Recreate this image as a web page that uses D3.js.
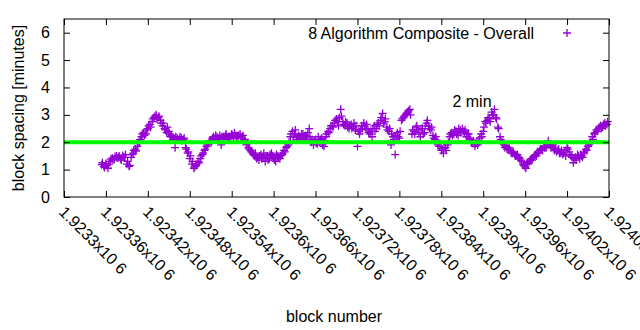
<!DOCTYPE html>
<html><head><meta charset="utf-8">
<script src="https://cdn.jsdelivr.net/npm/d3@7"></script>
<style>body{margin:0;background:#fff}svg{display:block}text{font-family:"Liberation Sans",Arial,sans-serif;fill:#000}</style>
</head><body><svg id="c" width="640" height="330"></svg>
<script>
const startBlock = 1923354;
const blockStep = 3;
const spacing = [
1.18,1.12,1.22,1.05, 1.3,1.42,1.38,1.5, 1.45,1.4,1.52,1.45, 1.2,1.12,
1.45,1.6,1.75,1.85, 2.0,2.2,2.35,2.3, 2.5,2.65,2.75, 2.9,3.0,2.9,2.8,
2.6,2.5,2.35,2.4, 2.2,2.1,1.8,2.15, 2.1,2.15,2.1,1.8, 1.6,1.4,1.2,
1.05,1.15,1.3, 1.4,1.55,1.7,1.85, 1.95,2.05,2.15,2.1,
2.2,2.15,1.9,2.2,2.25,2.1,2.2,2.3,2.15,2.25,2.2,2.3,2.15,2.05,
1.9,1.8,1.7, 1.6,1.5,1.4,1.35,1.55,1.45,1.3, 1.5,1.4,1.6,1.45,1.3,1.5,1.4,
1.55,1.7,1.8,1.9, 2.2,2.4,2.3,2.1,2.25, 2.2,2.3,2.1,2.2,2.5,
2.0,1.9,2.1,1.95,2.0,2.15,1.85, 2.2,2.4,2.5,2.6, 2.7,2.85,2.6,3.2,2.75,
2.6,2.7,2.5,2.65,2.55,2.45, 1.85,2.3,2.6,2.7,2.5,2.45, 2.3,2.2,2.6,2.5,2.7,
2.8,3.05,2.75,2.55,2.4, 1.9,2.2,1.55,2.35,2.15, 2.8,2.9,3.0,3.1,3.2,
2.3,2.4,2.55,2.45,2.2,2.5,2.35, 2.7,2.6,2.45,2.25,2.1, 2.0,1.85,1.7,1.6,1.8,1.9,
2.2,2.35,2.3,2.4,2.25,2.45, 2.5,2.35,2.2,2.3, 2.1,1.95,1.85,2.05,2.0,
2.3,2.4,2.75,2.8,2.85, 3.1,3.0,2.9,2.55, 2.2,2.0,1.9,
1.85,1.75,1.7,1.6,1.55,1.5,1.45,1.35, 1.2,1.1,1.25, 1.3,1.4,1.45,1.55,1.65,1.7,
1.75,1.85,1.8,2.05,1.9,1.85,1.7, 1.65,1.75,1.6,1.55,1.7,1.8,1.65,1.5,
1.25,1.45,1.55,1.4,1.5,1.6, 1.75,1.85,1.95, 2.2,2.3,2.45,2.5,2.6,2.55,2.7,2.65
];
const spacingB = [
1.25,1.08,1.15,1.2, 1.38,1.35,1.48,1.42, 1.5,1.35,1.45,1.55, 1.3,1.15,
1.55,1.7,1.68,1.95, 2.1,2.3,2.25,2.45, 2.6,2.55,2.85, 2.95,2.85,2.95,2.7,
2.7,2.45,2.55,2.3, 2.25,2.15,2.2,2.1, 2.2,2.05,2.15,1.75, 1.65,1.5,1.3,
1.1,1.2,1.25, 1.5,1.6,1.75,1.9, 2.05,2.0,2.2,2.25,
2.1,2.25,2.2,2.15,2.3,2.2,2.15,2.25,2.35,2.2,2.25,2.2,2.25,2.1,
1.95,1.75,1.65, 1.55,1.6,1.45,1.5,1.4,1.6,1.5, 1.35,1.55,1.5,1.35,1.55,1.45,1.5,
1.6,1.65,1.85,2.0, 2.3,2.2,2.45,2.2,2.15, 2.3,2.15,2.25,2.35,2.2,
2.1,2.05,1.95,2.2,2.1,1.9,2.05, 2.3,2.35,2.6,2.55, 2.8,2.75,2.9,2.95,2.65,
2.75,2.55,2.6,2.5,2.7,2.6, 2.4,2.45,2.5,2.6,2.65,2.35, 2.4,2.5,2.4,2.65,2.6,
2.9,2.7,2.85,2.45,2.5, 2.3,2.1,2.25,2.2,2.4, 2.85,2.95,3.05,3.15,3.0,
2.45,2.3,2.6,2.35,2.5,2.3,2.6, 2.8,2.5,2.55,2.15,2.2, 1.9,1.95,1.75,1.8,1.7,2.0,
2.3,2.25,2.45,2.3,2.5,2.35, 2.4,2.45,2.3,2.15, 2.0,2.05,1.95,1.9,2.15,
2.2,2.55,2.7,2.9,2.75, 3.0,3.2,2.85,2.5, 2.1,1.95,1.8,
1.75,1.8,1.6,1.65,1.5,1.55,1.4,1.3, 1.15,1.05,1.2, 1.35,1.35,1.5,1.5,1.6,1.75,
1.7,1.8,1.9,1.95,1.8,1.9,1.75, 1.7,1.6,1.7,1.6,1.5,1.75,1.55,1.45,
1.4,1.35,1.5,1.55,1.45,1.65, 1.7,1.9,2.0, 2.1,2.35,2.4,2.55,2.5,2.65,2.6,2.75
];
const blocks = spacing.map((v,i) => startBlock + i*blockStep);
const blocksB = spacingB.map((v,i) => startBlock + 1 + i*blockStep);
const xTicks = d3.range(1923300, 1924081, 60);
const yTicks = [0,1,2,3,4,5,6];
const targetMinutes = 2;
const seriesName = "8 Algorithm Composite - Overall";
const targetLabel = "2 min";

const svg = d3.select("#c");
const L=64,R=609,T=19,B=197;
const x = d3.scaleLinear([1923300,1924080],[L,R]);
const y = d3.scaleLinear([0,6.5],[B,T]);
const purple = "#9400d3";
const fs = 16;

// data points
const pts = svg.append("g");
const s = 4;
const cross = (cx,cy)=>pts.append("path").attr("d",`M${cx-s},${cy}H${cx+s}M${cx},${cy-s}V${cy+s}`)
    .attr("stroke",purple).attr("stroke-width",1.3).attr("fill","none");
spacing.forEach((v,i)=>cross(x(blocks[i]), y(v)));
spacingB.forEach((v,i)=>cross(x(blocksB[i]), y(v)));

// 2 min line
svg.append("line").attr("x1",L).attr("x2",R).attr("y1",y(targetMinutes)).attr("y2",y(targetMinutes))
  .attr("stroke","#00ff00").attr("stroke-width",4);

// axes (inward ticks, mirrored)
const ax = (g,axis)=>g.call(axis).call(g=>{g.select(".domain").remove();g.selectAll("line").attr("stroke","#000");});
svg.append("g").attr("transform",`translate(0,${B})`).call(g=>ax(g,d3.axisBottom(x).tickValues(xTicks).tickSize(-6).tickFormat("")));
svg.append("g").attr("transform",`translate(0,${T})`).call(g=>ax(g,d3.axisTop(x).tickValues(xTicks).tickSize(-6).tickFormat("")));
svg.append("g").attr("transform",`translate(${L},0)`).call(g=>ax(g,d3.axisLeft(y).tickValues(yTicks).tickSize(-6).tickFormat("")));
svg.append("g").attr("transform",`translate(${R},0)`).call(g=>ax(g,d3.axisRight(y).tickValues(yTicks).tickSize(-6).tickFormat("")));
svg.append("rect").attr("x",L).attr("y",T).attr("width",R-L).attr("height",B-T)
  .attr("fill","none").attr("stroke","#000").attr("stroke-width",1);

// y tick labels
yTicks.forEach(t=>svg.append("text").attr("x",L-14).attr("y",y(t)).attr("text-anchor","end")
  .attr("dominant-baseline","central").attr("font-size",fs).text(t));

// x tick labels rotated
xTicks.forEach(t=>{
  const lab = String(+(t/1e6).toFixed(5)) + "x10 6";
  svg.append("text").attr("transform",`translate(${x(t)-2},${B+12}) rotate(45)`)
    .attr("text-anchor","start").attr("dominant-baseline","central").attr("font-size",fs).text(lab);
});

// axis titles
svg.append("text").attr("transform","translate(18,108) rotate(-90)").attr("text-anchor","middle")
  .attr("dominant-baseline","central").attr("font-size",fs).text("block spacing [minutes]");
svg.append("text").attr("x",334).attr("y",316).attr("text-anchor","middle")
  .attr("dominant-baseline","central").attr("font-size",fs).text("block number");

// legend
svg.append("text").attr("x",534).attr("y",33).attr("text-anchor","end").attr("dominant-baseline","central")
  .attr("font-size",fs).text(seriesName);
svg.append("path").attr("d",`M${567-s},33H${567+s}M567,${33-s}V${33+s}`).attr("stroke",purple).attr("stroke-width",1.3);

// label
svg.append("text").attr("x",472).attr("y",101).attr("text-anchor","middle").attr("dominant-baseline","central")
  .attr("font-size",fs).text(targetLabel);
</script></body></html>
